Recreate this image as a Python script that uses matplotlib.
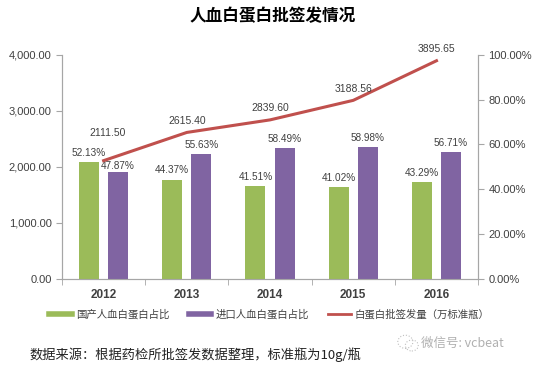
import matplotlib
matplotlib.use('Agg')
import matplotlib.pyplot as plt
from matplotlib.lines import Line2D
from matplotlib.patches import Ellipse
from matplotlib.ticker import FuncFormatter, FixedLocator
import numpy as np

plt.rcParams['font.family'] = ['Noto Sans CJK SC', 'DejaVu Sans']

# data
years = ['2012', '2013', '2014', '2015', '2016']
domestic_pct = [52.13, 44.37, 41.51, 41.02, 43.29]
imported_pct = [47.87, 55.63, 58.49, 58.98, 56.71]
volume = [2111.50, 2615.40, 2839.60, 3188.56, 3895.65]

green = '#9BBB59'
purple = '#8064A2'
red = '#C0504D'
grey = '#A6A6A6'
txt = '#404040'
num_font = 'Liberation Sans'

fig = plt.figure(figsize=(5.39, 3.66), dpi=100)
ax = fig.add_axes([0.115, 0.238, 0.772, 0.612])
ax2 = ax.twinx()

x = np.arange(len(years))
w = 0.24
off = 0.175

# bars on the percentage axis
ax2.bar(x - off, domestic_pct, w, color=green, zorder=2)
ax2.bar(x + off, imported_pct, w, color=purple, zorder=2)
for i in range(len(years)):
    ax2.annotate(f'{domestic_pct[i]:.2f}%', (x[i] - off, domestic_pct[i]), xytext=(0, 6.5),
                 textcoords='offset points', ha='center', va='center',
                 fontsize=7.2, color=txt, family=num_font)
    dy = 4.2 if i == 0 else 6.5  # first one sits just under the line
    ax2.annotate(f'{imported_pct[i]:.2f}%', (x[i] + off, imported_pct[i]), xytext=(0, dy),
                 textcoords='offset points', ha='center', va='center',
                 fontsize=7.2, color=txt, family=num_font)

# line on the volume axis, drawn over the bars
ax3 = ax.twinx()
ax3.set_ylim(0, 4000)
ax3.axis('off')
ax3.plot(x, volume, color=red, linewidth=2.2, zorder=3)
for i in range(len(years)):
    dy = 20 if i == 0 else 8.5
    dx = 3 if i == 0 else 0
    ax3.annotate(f'{volume[i]:.2f}', (x[i], volume[i]), xytext=(dx, dy),
                 textcoords='offset points', ha='center', va='center',
                 fontsize=7.5, color=txt, family=num_font)

ax.set_xlim(-0.5, 4.5)
ax2.set_xlim(-0.5, 4.5)
ax3.set_xlim(-0.5, 4.5)
ax.set_ylim(0, 4000)
ax2.set_ylim(0, 100)
ax.set_yticks([0, 1000, 2000, 3000, 4000])
ax.yaxis.set_major_formatter(FuncFormatter(lambda v, p: f'{v:,.2f}'))
ax2.set_yticks([0, 20, 40, 60, 80, 100])
ax2.yaxis.set_major_formatter(FuncFormatter(lambda v, p: f'{v:.2f}%'))

ax.set_xticks(x)
ax.set_xticklabels(years, fontsize=8.5, fontweight='bold', color=txt, family=num_font)
ax.tick_params(axis='x', length=0, pad=7)
ax.xaxis.set_minor_locator(FixedLocator(np.arange(-0.5, 4.6, 1)))
ax.tick_params(axis='x', which='minor', length=4, color=grey)

for a in (ax, ax2):
    for s in a.spines.values():
        s.set_color(grey)
    a.spines['top'].set_visible(False)
ax.tick_params(axis='y', labelsize=8, colors=txt, length=4, color=grey)
ax2.tick_params(axis='y', labelsize=8, colors=txt, length=4, color=grey)
for lab in ax.get_yticklabels() + ax2.get_yticklabels():
    lab.set_family(num_font)

fig.text(0.505, 0.955, '人血白蛋白批签发情况', ha='center', va='center',
         fontsize=12, fontweight='bold')

handles = [Line2D([], [], color=green, lw=4),
           Line2D([], [], color=purple, lw=4),
           Line2D([], [], color=red, lw=2)]
labels = ['国产人血白蛋白占比', '进口人血白蛋白占比', '白蛋白批签发量（万标准瓶）']
fig.legend(handles, labels, loc='center', bbox_to_anchor=(0.5, 0.142), ncol=3,
           frameon=False, fontsize=7.5, handlelength=2.2, columnspacing=1.8,
           handletextpad=0.4, labelcolor=txt)

# watermark
fig.patches.append(Ellipse((0.752, 0.066), 0.028, 0.036, transform=fig.transFigure,
                           fill=False, ec='#c0c0c0', lw=0.8, ls=':'))
fig.patches.append(Ellipse((0.764, 0.056), 0.024, 0.03, transform=fig.transFigure,
                           fill=False, ec='#c0c0c0', lw=0.8, ls=':'))
fig.text(0.782, 0.063, '微信号: vcbeat', ha='left', va='center', fontsize=9, color='#b0b0b0')
fig.text(0.055, 0.03, '数据来源：根据药检所批签发数据整理，标准瓶为10g/瓶', ha='left',
         va='center', fontsize=9.5, color='#222222')

fig.savefig('out.png', dpi=100)
